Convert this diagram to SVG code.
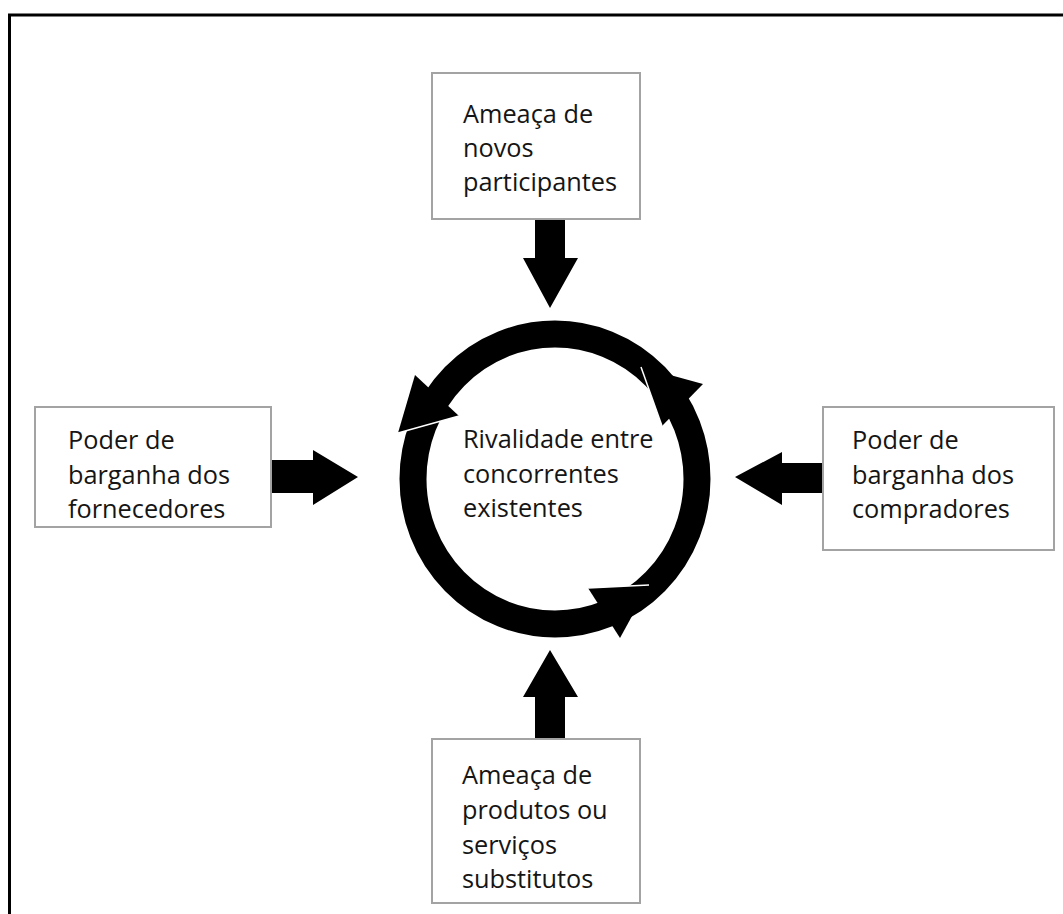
<svg xmlns="http://www.w3.org/2000/svg" width="1063" height="914" viewBox="0 0 1063 914">
<style>
.box{fill:#fff;stroke:#a3a3a3;stroke-width:2}
.t{font-family:"Open Sans","Noto Sans",sans-serif;font-size:25.3px;fill:#151515}
.ring{fill:none;stroke:#000;stroke-width:27}
.head{fill:#000}
.seam{fill:none;stroke:#fff;stroke-width:1.5}
</style>
<rect width="1063" height="914" fill="#fff"/>
<path d="M9.5,914 V15 H1063" fill="none" stroke="#000" stroke-width="3"/>
<g id="connectors">
<path d="M535,219 H565 V258 H578 L550,308 L523,258 H535 Z" fill="#000"/>
<path d="M535,739 H565 V697 H578 L550,650 L523,697 H535 Z" fill="#000"/>
<path d="M271,460 H313 V450 L358,477 L313,505 V493 H271 Z" fill="#000"/>
<path d="M823,463 H782 V452 L735,477 L782,505 V493 H823 Z" fill="#000"/>
</g>
<g id="center">
<ellipse class="ring" cx="555" cy="479" rx="142" ry="145"/>
<path class="head" d="M398,433 L415,375 L459,416 Z"/>
<path class="seam" d="M398,433 L459,416"/>
<path class="head" d="M649,585 L620,638 L588,588 Z"/>
<path class="seam" d="M649,585 L588,588"/>
<path class="head" d="M641,367 L703,384 L662,426 Z"/>
<path class="seam" d="M641,367 L662,426"/>
<text class="t"><tspan x="463" y="448">Rivalidade entre</tspan><tspan x="463" y="483">concorrentes</tspan><tspan x="463" y="517">existentes</tspan></text>
</g>
<g id="top">
<rect class="box" x="432" y="73" width="208" height="146"/>
<text class="t"><tspan x="463" y="123">Ameaça de</tspan><tspan x="463" y="157">novos</tspan><tspan x="463" y="191">participantes</tspan></text>
</g>
<g id="left">
<rect class="box" x="35" y="407" width="236" height="120"/>
<text class="t"><tspan x="68" y="449">Poder de</tspan><tspan x="68" y="484">barganha dos</tspan><tspan x="68" y="518">fornecedores</tspan></text>
</g>
<g id="right">
<rect class="box" x="823" y="407" width="231" height="143"/>
<text class="t"><tspan x="852" y="449">Poder de</tspan><tspan x="852" y="484">barganha dos</tspan><tspan x="852" y="518">compradores</tspan></text>
</g>
<g id="bottom">
<rect class="box" x="432" y="739" width="208" height="164"/>
<text class="t"><tspan x="462" y="784">Ameaça de</tspan><tspan x="462" y="819">produtos ou</tspan><tspan x="462" y="854">serviços</tspan><tspan x="462" y="888">substitutos</tspan></text>
</g>
</svg>
